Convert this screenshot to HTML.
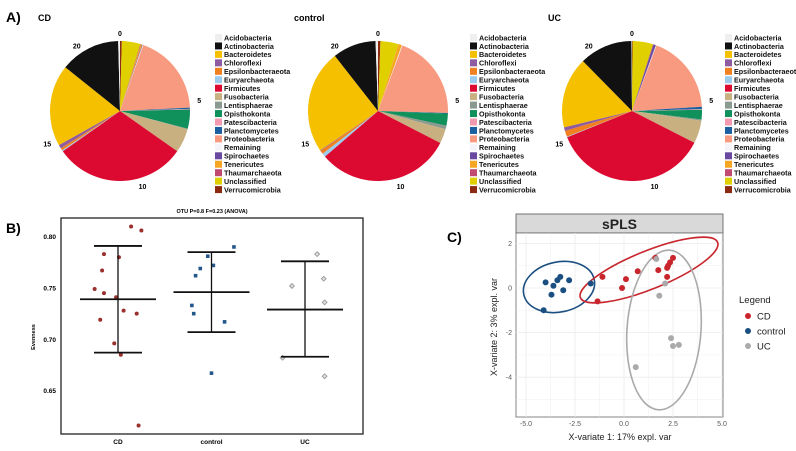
<!DOCTYPE html>
<html><head><meta charset="utf-8"><style>
body{margin:0;background:#fff;font-family:"Liberation Sans",sans-serif}
svg{display:block}
</style></head><body>
<svg id="fig" width="796" height="451" viewBox="0 0 796 451" xmlns="http://www.w3.org/2000/svg" font-family="Liberation Sans, sans-serif">
<text x="6" y="22" font-size="14" font-weight="bold">A)</text>
<text x="6" y="233" font-size="14" font-weight="bold">B)</text>
<text x="447" y="242" font-size="14" font-weight="bold">C)</text>
<g id="pies"></g>
<g id="panelB"></g>
<g id="panelC"></g>
</svg>
<script>
const NS="http://www.w3.org/2000/svg";
function mk(p,t,a){const e=document.createElementNS(NS,t);for(const k in a)e.setAttribute(k,a[k]);p.appendChild(e);return e;}

// ---------- Panel A data ----------
const phyla=["Acidobacteria","Actinobacteria","Bacteroidetes","Chloroflexi","Epsilonbacteraeota","Euryarchaeota","Firmicutes","Fusobacteria","Lentisphaerae","Opisthokonta","Patescibacteria","Planctomycetes","Proteobacteria","Remaining","Spirochaetes","Tenericutes","Thaumarchaeota","Unclassified","Verrucomicrobia"];
const phylaColors=["#efefef","#111111","#f5c000","#8e5aa0","#f08020","#9ccbee","#dc0a30","#c8b080","#8a9a90","#10905a","#f49ab0","#1a5fa0","#f89a80","#f4f4fa","#6a4aa0","#f5a623","#c04a70","#e0d000","#8b2a10"];
const pieGroups=["CD","control","UC"];
const cdValues=[1.5,50,68,3,2,1,110,20,0.5,16,0.5,1,68,0.5,0.5,1,0.5,15.5,1.5];
const controlValues=[2,36,86,0.5,3,3,112,12,3,10,0,0.5,71,0.5,0,3,0,15,2];
const ucValues=[0.5,44,59,3,5,0.5,131,19,1,8,0.5,2,66,0.5,2,0,0.5,17,0.5];
const pieTicks=[0,5,10,15,20];
const pieTickMax=22;

const pieCx=[120,378,632], pieCy=111, pieR=70, legX=[215,470,725];
const pies=document.getElementById('pies');
const allVals=[cdValues,controlValues,ucValues];
const titleX=[38,294,548];
pieGroups.forEach((g,gi)=>{
  const grp=mk(pies,'g',{});
  
  
  const t=mk(grp,'text',{x:titleX[gi],y:21,'font-size':9,'font-weight':'bold'});t.textContent=g;
  
  
  const vals=allVals[gi];const tot=vals.reduce((a,b)=>a+b,0);
  let acc=0;const cx=pieCx[gi];
  for(let i=vals.length-1;i>=0;i--){
    const v=vals[i];if(v<=0)continue;
    const a0=acc/tot*2*Math.PI;acc+=v;const a1=acc/tot*2*Math.PI;
    const x0=cx+pieR*Math.sin(a0),y0=pieCy-pieR*Math.cos(a0),x1=cx+pieR*Math.sin(a1),y1=pieCy-pieR*Math.cos(a1);
    const p=mk(grp,'path',{d:`M${cx},${pieCy}L${x0},${y0}A${pieR},${pieR} 0 ${a1-a0>Math.PI?1:0} 1 ${x1},${y1}Z`,fill:phylaColors[i]});
    
    
  }
  pieTicks.forEach(tk=>{
    const a=tk/pieTickMax*2*Math.PI;
    const tx=mk(grp,'text',{x:cx+(pieR+10)*Math.sin(a),y:pieCy-(pieR+8)*Math.cos(a)+3,'font-size':7,'font-weight':'bold','text-anchor':'middle'});
    tx.textContent=tk;
    
    
  });
  const lg=mk(grp,'g',{});
  
  
  phyla.forEach((ph,i)=>{
    const y=34+i*8.45;
    const r=mk(lg,'rect',{x:legX[gi],y:y,width:7,height:7,fill:phylaColors[i]});
    
    
    const tx=mk(lg,'text',{x:legX[gi]+9,y:y+6.3,'font-size':7.2,'font-weight':'bold',fill:'#111'});tx.textContent=ph;
    
    
  });
});

// ---------- Panel B data ----------
const bGroups=["CD","control","UC"];
const cdEven=[0.81,0.806,0.783,0.78,0.767,0.749,0.745,0.741,0.728,0.719,0.725,0.696,0.685,0.616];
const cdJitter=[0.14,0.25,-0.15,0.01,-0.17,-0.25,-0.15,-0.02,0.06,-0.19,0.2,-0.04,0.03,0.22];
const controlEven=[0.79,0.781,0.772,0.769,0.762,0.733,0.725,0.717,0.667];
const controlJitter=[0.24,-0.04,0.02,-0.12,-0.17,-0.21,-0.19,0.14,0.0];
const ucEven=[0.783,0.752,0.759,0.736,0.682,0.664];
const ucJitter=[0.13,-0.14,0.2,0.21,-0.24,0.21];
const bMean=[0.739,0.746,0.729];
const bUpper=[0.791,0.785,0.776];
const bLower=[0.687,0.707,0.683];
const bTicks=[0.65,0.70,0.75,0.80];

const B=document.getElementById('panelB');
const bL=61,bR=363,bT=218,bB=434;
const by=v=>288-(v-0.75)/0.05*51.3;
const bx=i=>118+i*93.5;
const frame=mk(B,'rect',{x:bL,y:bT,width:bR-bL,height:bB-bT,fill:'none',stroke:'#222','stroke-width':1.3});

const bt=mk(B,'text',{x:(bL+bR)/2,y:213,'font-size':5.5,'font-weight':'bold','text-anchor':'middle'});bt.textContent="OTU P=0.8 F=0.23 (ANOVA)";

const yl=mk(B,'text',{x:0,y:0,'font-size':5.5,'font-weight':'bold','text-anchor':'middle',transform:'translate(35,337) rotate(-90)'});yl.textContent="Evenness";

bTicks.forEach(t=>{
  const tx=mk(B,'text',{x:bL-5,y:by(t)+2.5,'font-size':6.5,'font-weight':'bold','text-anchor':'end'});tx.textContent=t.toFixed(2);
  
});
bGroups.forEach((g,i)=>{
  const tx=mk(B,'text',{x:bx(i),y:444,'font-size':6.5,'font-weight':'bold','text-anchor':'middle'});tx.textContent=g;
  
});
const pointSets=[[cdEven,cdJitter,'#9a2f2c','circle'],[controlEven,controlJitter,'#24578a','square'],[ucEven,ucJitter,'#999999','diamond']];
pointSets.forEach((ps,gi)=>{
  ps[0].forEach((v,k)=>{
    const x=bx(gi)+ps[1][k]*93.5,y=by(v);let e;
    if(ps[3]==='circle')e=mk(B,'circle',{cx:x,cy:y,r:2,fill:ps[2]});
    else if(ps[3]==='square')e=mk(B,'rect',{x:x-1.8,y:y-1.8,width:3.6,height:3.6,fill:ps[2]});
    else e=mk(B,'path',{d:`M${x},${y-2.4}L${x+2.4},${y}L${x},${y+2.4}L${x-2.4},${y}Z`,fill:'#ddd',stroke:ps[2],'stroke-width':0.9});
    
    
  });
});
bGroups.forEach((g,i)=>{
  const c=bx(i);
  const parts=[[c,by(bUpper[i]),c,by(bLower[i])],[c-38,by(bMean[i]),c+38,by(bMean[i])],[c-24,by(bUpper[i]),c+24,by(bUpper[i])],[c-24,by(bLower[i]),c+24,by(bLower[i])]];
  parts.forEach((p,k)=>{
    const l=mk(B,'line',{x1:p[0],y1:p[1],x2:p[2],y2:p[3],stroke:'#111','stroke-width':k===0?1.3:1.8});
    
    
  });
});

// ---------- Panel C data ----------
const cdX=[1.6,2.5,2.35,2.2,2.25,1.75,0.7,0.1,-0.1,2.2,-1.1,-1.35];
const cdY=[1.35,1.35,1.15,0.9,1.0,0.8,0.75,0.4,0,0.5,0.5,-0.6];
const ctlX=[-4.0,-3.6,-3.7,-3.4,-3.25,-2.8,-3.1,-1.7,-4.1];
const ctlY=[0.25,0.1,-0.3,0.35,0.5,0.35,-0.1,0.2,-1.0];
const ucX=[1.65,2.1,1.8,2.4,2.5,2.8,0.6];
const ucY=[1.3,0.2,-0.35,-2.25,-2.6,-2.55,-3.55];
const cXTicks=[-5.0,-2.5,0.0,2.5,5.0];
const cYTicks=[2,0,-2,-4];

const C=document.getElementById('panelC');
const cL=516,cR=723,cT=233,cB=417;
const sx=v=>624+v*19.6;
const sy=v=>288-v*22.3;
const strip=mk(C,'rect',{x:cL,y:214,width:cR-cL,height:19,fill:'#d9d9d9',stroke:'#555','stroke-width':0.8});

const st=mk(C,'text',{x:(cL+cR)/2,y:229,'font-size':14,'font-weight':'bold','text-anchor':'middle',fill:'#222'});st.textContent="sPLS";

const pb=mk(C,'rect',{x:cL,y:cT,width:cR-cL,height:cB-cT,fill:'#fff',stroke:'#666','stroke-width':0.8});

for(let v=-5;v<=5;v+=1.25){const l=mk(C,'line',{x1:sx(v),x2:sx(v),y1:cT,y2:cB,stroke:'#ebebeb','stroke-width':(v*4)%10===0?0.8:0.4});}
for(let v=-5;v<=2;v+=1){const l=mk(C,'line',{x1:cL,x2:cR,y1:sy(v),y2:sy(v),stroke:'#ebebeb','stroke-width':v%2===0?0.8:0.4});}
cXTicks.forEach(t=>{const tx=mk(C,'text',{x:sx(t),y:426,'font-size':7,fill:'#555','text-anchor':'middle'});tx.textContent=t.toFixed(1);});
cYTicks.forEach(t=>{const tx=mk(C,'text',{x:cL-4,y:sy(t)+2.5,'font-size':7,fill:'#555','text-anchor':'end'});tx.textContent=t;});
const xt=mk(C,'text',{x:620,y:440,'font-size':9,fill:'#222','text-anchor':'middle'});xt.textContent="X-variate 1: 17% expl. var";

const yt=mk(C,'text',{x:0,y:0,'font-size':9,fill:'#222','text-anchor':'middle',transform:'translate(497,327) rotate(-90)'});yt.textContent="X-variate 2: 3% expl. var";

const ells=[[559,287,36,25,-12,'#1b4f82','ellipse-control'],[649,270,74,19,-22,'#c8262c','ellipse-cd'],[664,330,37,80,4,'#aaaaaa','ellipse-uc']];
ells.forEach(e=>{const el=mk(C,'ellipse',{cx:e[0],cy:e[1],rx:e[2],ry:e[3],transform:`rotate(${e[4]} ${e[0]} ${e[1]})`,fill:'none',stroke:e[5],'stroke-width':1.6});});
const cSets=[[cdX,cdY,'#c8262c','cd'],[ctlX,ctlY,'#1b4f82','control'],[ucX,ucY,'#aaaaaa','uc']];
cSets.forEach(s=>{s[0].forEach((x,k)=>{const c=mk(C,'circle',{cx:sx(x),cy:sy(s[1][k]),r:3,fill:s[2]});});});
const lgT=mk(C,'text',{x:739,y:303,'font-size':9.5,fill:'#222'});lgT.textContent="Legend";

[["CD",'#c8262c'],["control",'#1b4f82'],["UC",'#aaaaaa']].forEach((e,i)=>{
  const y=316+i*15;
  const c=mk(C,'circle',{cx:748,cy:y,r:3,fill:e[1]});
  const tx=mk(C,'text',{x:757,y:y+3.5,'font-size':9.5,fill:'#222'});tx.textContent=e[0];
  
});
</script>
</body></html>
